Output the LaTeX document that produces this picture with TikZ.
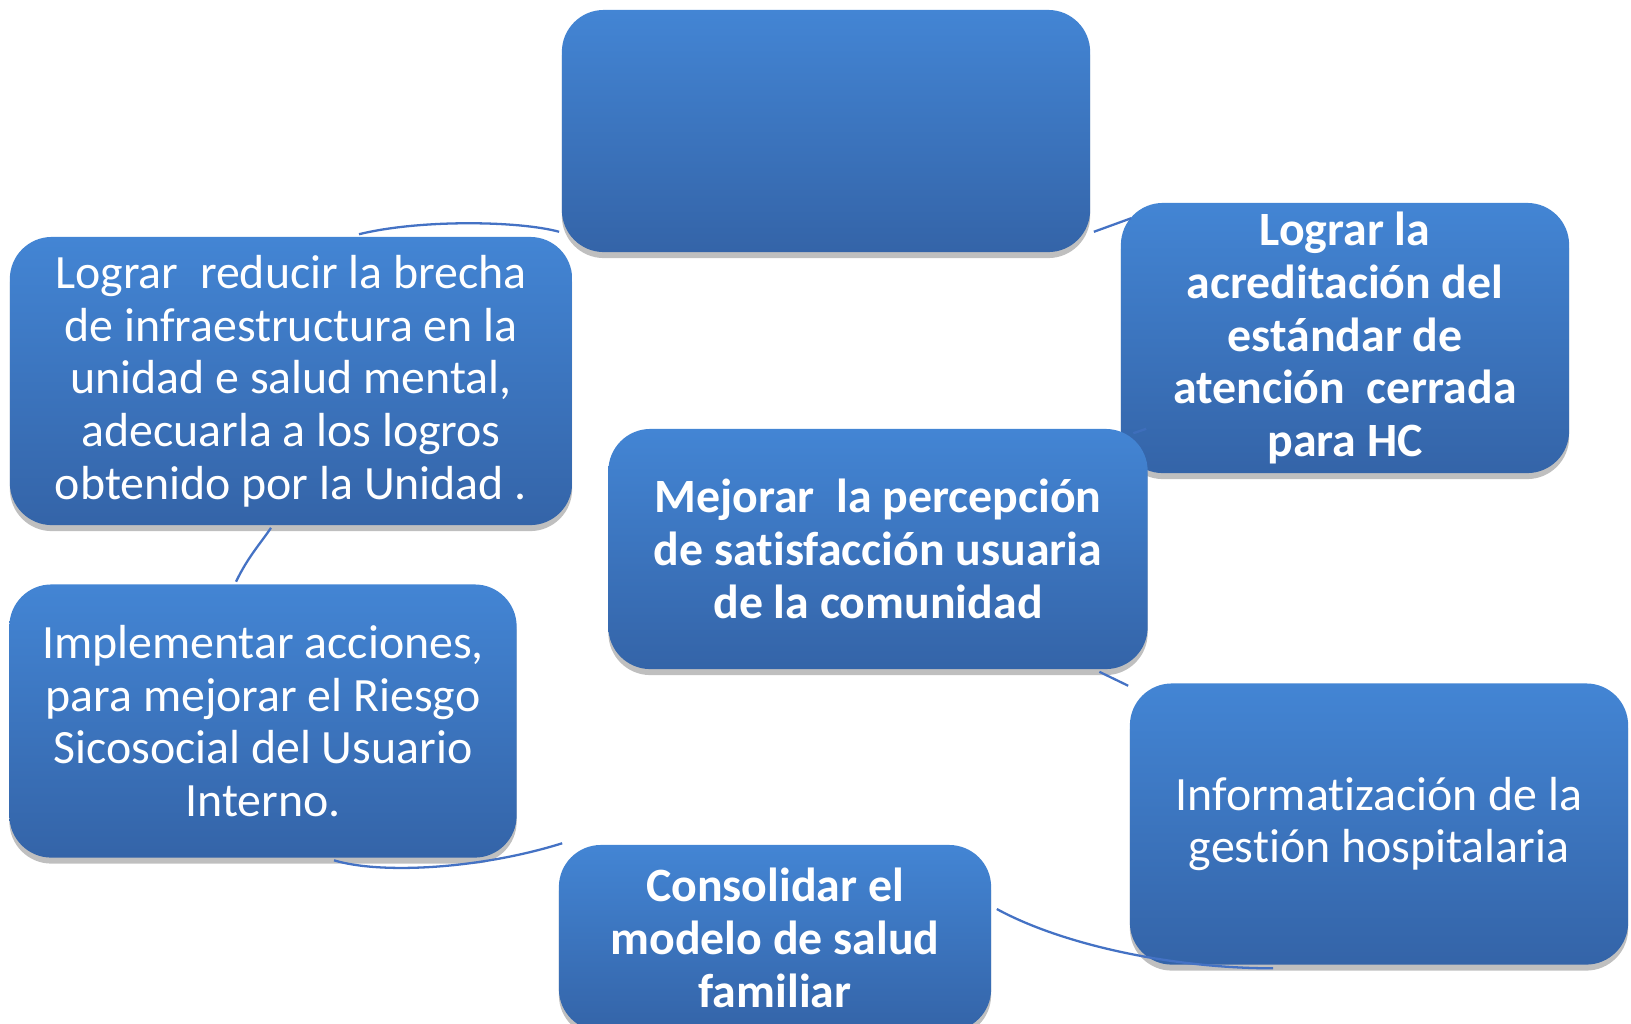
\documentclass[tikz,border=0pt]{standalone}
\usepackage{fontspec}
\setmainfont{Carlito}[Ligatures=NoCommon]
\usepackage{tikz}
\usetikzlibrary{shadows}
\definecolor{cajaalta}{RGB}{67,133,212}
\definecolor{cajabaja}{RGB}{52,100,168}
\definecolor{azulenlace}{RGB}{68,114,196}

\begin{document}
\begin{tikzpicture}[x=0.01cm, y=-0.01cm,
  caja/.style={rectangle, rounded corners=0.42cm, top color=cajaalta, bottom color=cajabaja,
    text=white, align=center, inner sep=0pt, font=\fontsize{13.6}{15}\selectfont,
    drop shadow={shadow xshift=0pt, shadow yshift=-0.06cm, opacity=0.5}},
  negrita/.style={font=\fontsize{13.6}{15}\selectfont\bfseries},
  enlace/.style={draw=azulenlace, line width=0.65pt}]
\useasboundingbox (0,0) rectangle (1631,1023);
%%%%% Cajas %%%%%
\node[caja, minimum width=5.28cm, minimum height=2.42cm] (meta) at (826,131) {};
\node[caja, negrita, minimum width=4.48cm, minimum height=2.70cm] (acred) at (1345,338)
  {Lograr la\\acreditación del\\estándar de\\atención\ \ cerrada\\para HC};
\node[caja, minimum width=5.62cm, minimum height=2.88cm] (brecha) at (291,381)
  {Lograr\ \ reducir la brecha\\de infraestructura en la\\unidad e salud mental,\\adecuarla a los logros\\obtenido por la Unidad .};
\node[caja, negrita, minimum width=5.39cm, minimum height=2.40cm] (percep) at (878,549)
  {Mejorar\ \ la percepción\\de satisfacción usuaria\\de la comunidad};
\node[caja, minimum width=5.07cm, minimum height=2.73cm] (riesgo) at (263,721)
  {Implementar acciones,\\para mejorar el Riesgo\\Sicosocial del Usuario\\Interno.};
\node[caja, minimum width=4.98cm, minimum height=2.81cm] (inform) at (1379,824)
  {Informatización de la\\gestión hospitalaria};
\node[caja, negrita, minimum width=4.32cm, minimum height=1.86cm] (famil) at (775,938)
  {Consolidar el\\modelo de salud\\familiar};
%%%%% Enlaces %%%%%
\draw[enlace] ([shift={(68,-2)}]brecha.north) .. controls +(61,-15) and +(-40,-11) .. ([shift={(-2,-21)}]meta.south west);
\draw[enlace] ([shift={(3,-21)}]meta.south east) -- ([shift={(11,16)}]acred.north west);
\draw[enlace, opacity=0.6] ([shift={(-15,5)}]percep.north east) -- ([shift={(26,-45)}]acred.south west);
\draw[enlace] ([shift={(-49,2)}]percep.south east) -- ([shift={(-1,3)}]inform.north west);
\draw[enlace] ([shift={(5,-29)}]famil.east) .. controls +(64,35) and +(-103,0) .. ([shift={(-106,3)}]inform.south);
\draw[enlace] ([shift={(71,2)}]riesgo.south) .. controls +(46,14) and +(-83,26) .. ([shift={(4,-1)}]famil.north west);
\draw[enlace] ([shift={(-27,-2)}]riesgo.north) .. controls +(12,-25) and +(-10,15) .. ([shift={(-20,2)}]brecha.south);
\end{tikzpicture}
\end{document}
